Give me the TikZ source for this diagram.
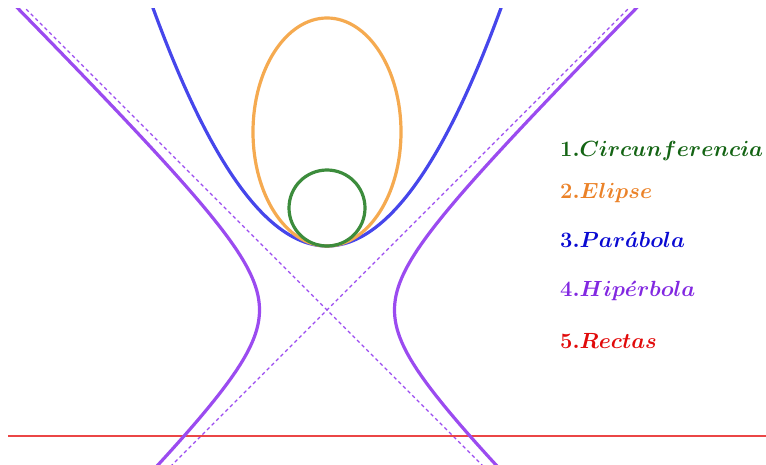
\documentclass[tikz,border=0pt]{standalone}
\usepackage{graphicx}
\usepackage{amsmath}
\definecolor{cgreen}{RGB}{60,140,60}
\definecolor{cgreentxt}{RGB}{20,100,20}
\definecolor{corange}{RGB}{245,170,80}
\definecolor{corangetxt}{RGB}{235,130,40}
\definecolor{cblue}{RGB}{70,70,235}
\definecolor{cbluetxt}{RGB}{10,10,210}
\definecolor{cpurple}{RGB}{155,75,240}
\definecolor{cpurpletxt}{RGB}{130,40,225}
\definecolor{cred}{RGB}{235,70,70}
\definecolor{credtxt}{RGB}{225,10,10}
\newcommand{\lbltext}[1]{\scalebox{1.27}{\LARGE\boldmath$#1$}}
\tikzset{
  curve/.style={line width=3.2pt},
  asym/.style={cpurple, line width=1.1pt, dash pattern=on 3.5pt off 3pt},
  label/.style={anchor=base west, inner sep=0pt}
}
\begin{document}
\begin{tikzpicture}[x=1pt,y=-1pt]
\useasboundingbox (0,0) rectangle (766,465);
\begin{scope}
\clip (8,9) rectangle (766,465);
% asymptotes
\coordinate (hc) at (327,310);
\coordinate (a1) at (17,0);
\coordinate (a2) at (487,470);
\coordinate (a3) at (637,0);
\coordinate (a4) at (167,470);
\draw[asym] (a1) -- (a2);
\draw[asym] (a3) -- (a4);
% red line
\coordinate (r1) at (8,436);
\coordinate (r2) at (766,436);
\draw[cred, line width=2pt] (r1) -- (r2);
% hyperbola
\draw[cpurple, curve] plot[smooth, domain=-2.3:1.75, samples=120, variable=\t] ({327-67.5*cosh(\t)}, {310+67.5*sinh(\t)});
\draw[cpurple, curve] plot[smooth, domain=-2.3:1.75, samples=120, variable=\t] ({327+67.5*cosh(\t)}, {310+67.5*sinh(\t)});
% parabola
\draw[cblue, curve] plot[smooth, domain=-1.85:1.85, samples=120, variable=\t] ({327+100*\t}, {246-78.6*\t*\t});
% ellipse
\draw[corange, curve] (327,132) ellipse [x radius=74pt, y radius=114pt];
% circle
\draw[cgreen, curve] (327,208) circle [radius=38pt];
\end{scope}
\node[label, text=cgreentxt] (t1) at (560,157) {\lbltext{1.Circunferencia}};
\node[label, text=corangetxt] (t2) at (560,199) {\lbltext{2.Elipse}};
\node[label, text=cbluetxt] (t3) at (560,248) {\lbltext{3.Par\acute{a}bola}};
\node[label, text=cpurpletxt] (t4) at (560,297) {\lbltext{4.Hip\acute{e}rbola}};
\node[label, text=credtxt] (t5) at (560,348) {\lbltext{5.Rectas}};
\end{tikzpicture}
\end{document}
